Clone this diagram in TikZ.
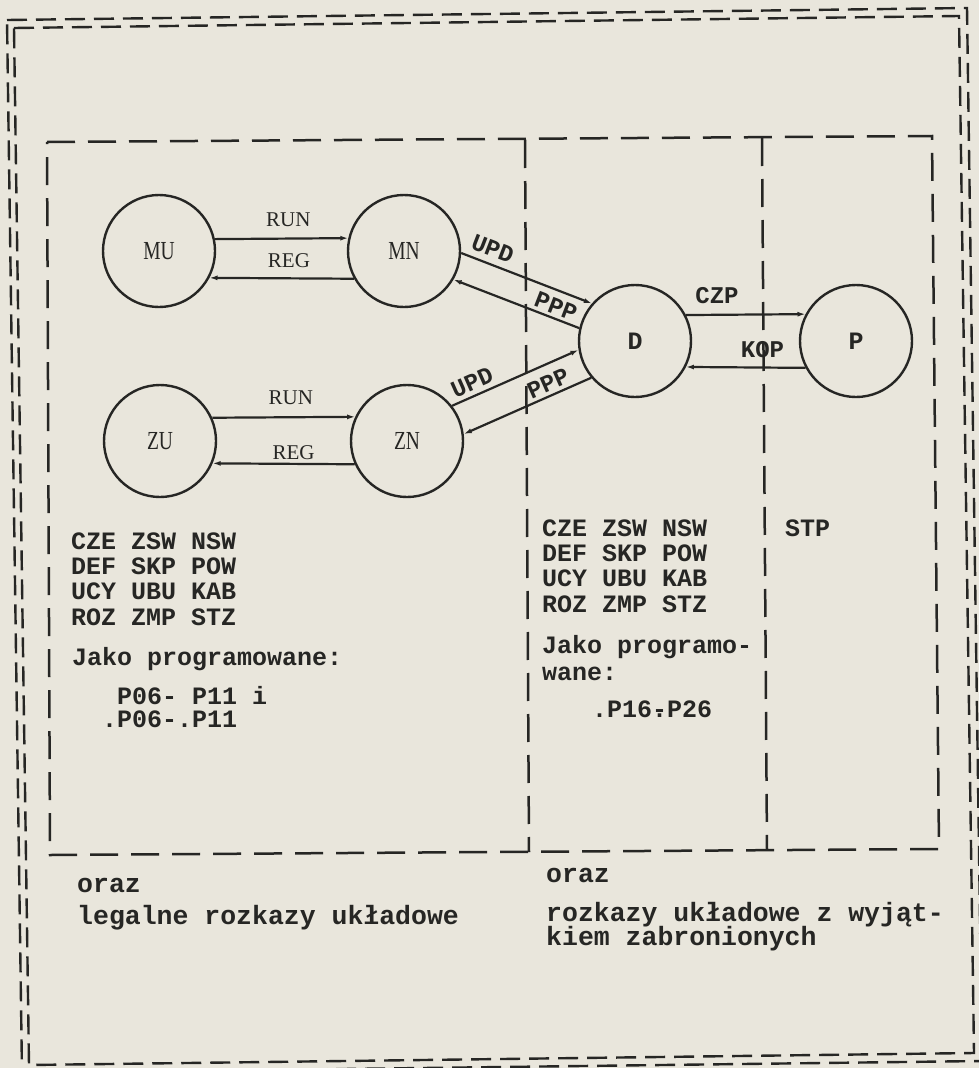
\documentclass[tikz,border=0pt]{standalone}
\usepackage{fontspec}
\usetikzlibrary{arrows.meta}
\newfontfamily\tw[UprightFont=* Bold]{Liberation Mono}
\newfontfamily\srf{Liberation Serif}
\newfontfamily\cnd[FakeStretch=0.75]{Liberation Serif}
\definecolor{ink}{RGB}{38,38,36}
\definecolor{paper}{RGB}{233,230,220}
\tikzset{
  conn/.style={line width=2.2pt, draw=ink},
  arr/.style={conn, -{Latex[length=8pt,width=5pt]}},
  rarr/.style={conn, {Latex[length=8pt,width=5pt]}-},
  state/.style={circle, draw=ink, line width=2.4pt, minimum size=112pt, inner sep=0pt, text=ink},
  cirlab/.style={font=\cnd\fontsize{26}{26}\selectfont},
  cirtw/.style={font=\tw\fontsize{25}{25}\selectfont},
  lab/.style={font=\srf\fontsize{21}{21}\selectfont, text=ink, inner sep=0pt},
  tlab/.style={font=\tw\fontsize{24}{24}\selectfont, text=ink},
  txt/.style={font=\tw\fontsize{25}{25}\selectfont, text=ink, anchor=base west, inner sep=0pt},
  btxt/.style={txt, font=\tw\fontsize{26.5}{26.5}\selectfont},
  border/.style={draw=ink, line width=2.4pt, dash pattern=on 20pt off 9pt},
  divline/.style={draw=ink, line width=2.5pt, dash pattern=on 28pt off 13pt},
}
\begin{document}
\begin{tikzpicture}[x=1pt,y=-1pt]
\useasboundingbox (0,0) rectangle (979,1068);
\fill[paper] (0,0) rectangle (979,1068);
\clip (0,0) rectangle (979,1068);

% double outer border
\draw[border] (7,20) -- (967,8) -- (982,1061) -- (22,1073) -- cycle;
\draw[border] (14,28) -- (959,16) -- (974,1053) -- (29,1065) -- cycle;

% inner frame and dividers
\draw[divline] (47,142) -- (932,136) -- (939,849) -- (50,855) -- cycle;
\draw[divline] (525,140) -- (529,852);
\draw[divline] (762,138) -- (767,850);

% states
\node[state, cirlab] (MU) at (159,251) {MU};
\node[state, cirlab] (MN) at (404,251) {MN};
\node[state, cirlab] (ZU) at (160,441) {ZU};
\node[state, cirlab] (ZN) at (407,441) {ZN};
\node[state, cirtw] (D) at (635,341) {D};
\node[state, cirtw] (P) at (856,341) {P};

% MU - MN
\draw[arr] (MU.12.4) -- node[lab, above=11pt, pos=.55] (run1) {RUN} (MN.167.6);
\draw[rarr] (MU.-28.8) -- node[lab, above=10pt, pos=.55] (reg1) {REG} (MN.-151.2);

% ZU - ZN
\draw[arr] (ZU.24.2) -- node[lab, above=11pt, pos=.55] (run2) {RUN} (ZN.155.8);
\draw[rarr] (ZU.-23.1) -- node[lab, above=3pt, pos=.57] (reg2) {REG} (ZN.-156.9);

% MN - D
\draw[arr] (MN.-2.5) -- node[tlab, sloped, above, inner sep=6pt, pos=.2] (upd1) {UPD} (D.139.9);
\draw[rarr] (MN.-30.5) -- node[tlab, sloped, above, inner sep=3pt, pos=.78] (ppp1) {PPP} (D.167.9);

% ZN - D
\draw[arr] (ZN.38.2) -- node[tlab, sloped, above, inner sep=4pt, pos=.2] (upd2) {UPD} (D.189.2);
\draw[rarr] (ZN.7.1) -- node[tlab, sloped, above, inner sep=3pt, pos=.7] (ppp2) {PPP} (D.220.3);

% D - P
\draw[arr] (D.27.7) -- node[tlab, above, inner sep=0pt, yshift=10pt, pos=.26] (czp) {CZP} (P.152.3);
\draw[rarr] (D.-27.7) -- node[tlab, above, inner sep=0pt, yshift=9pt, pos=.64] (kop) {KOP} (P.-152.3);

% left list
\node[txt] (l1) at (71,549) {CZE ZSW NSW};
\node[txt] (l2) at (71,574) {DEF SKP POW};
\node[txt] (l3) at (71,599) {UCY UBU KAB};
\node[txt] (l4) at (71,625) {ROZ ZMP STZ};
\node[txt] (l5) at (72,665) {Jako programowane:};
\node[txt] (l6) at (117,704) {P06- P11 i};
\node[txt] (l7) at (102,727) {.P06-.P11};

% right list
\node[txt] (r1) at (542,536) {CZE ZSW NSW};
\node[txt] (r2) at (542,561) {DEF SKP POW};
\node[txt] (r3) at (542,586) {UCY UBU KAB};
\node[txt] (r4) at (542,612) {ROZ ZMP STZ};
\node[txt] (r5) at (542,653) {Jako programo-};
\node[txt] (r6) at (542,680) {wane:};
\node[txt] (r7) at (592,717) {.P16-\llap{.}P26};
\node[txt] (stp) at (785,536) {STP};

% bottom texts
\node[btxt] (b1) at (77,892) {oraz};
\node[btxt] (b2) at (77,924) {legalne rozkazy układowe};
\node[btxt] (b3) at (546,882) {oraz};
\node[btxt] (b4) at (546,921) {rozkazy układowe z wyjąt-};
\node[btxt] (b5) at (546,945) {kiem zabronionych};
\end{tikzpicture}
\end{document}
